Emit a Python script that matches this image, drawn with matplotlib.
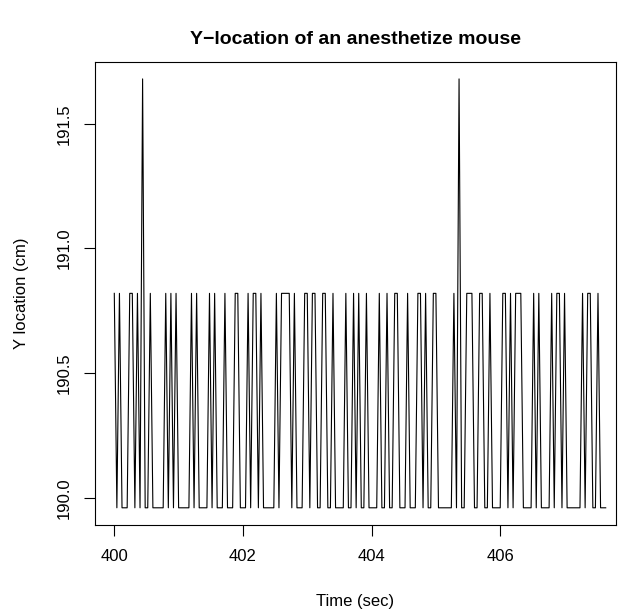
import matplotlib
matplotlib.use("Agg")
import matplotlib.pyplot as plt
import numpy as np

plt.rcParams['font.family'] = ['Liberation Sans', 'DejaVu Sans']

# tracked y position of the mouse, one value per video frame (25 fps)
t_start = 400.0
fps = 25
y_loc = [
    190.82, 189.96, 190.82, 189.96, 189.96, 189.96, 190.82, 190.82, 189.96, 190.82, 189.96, 191.68, 189.96, 189.96, 190.82, 189.96,
    189.96, 189.96, 189.96, 189.96, 190.82, 189.96, 190.82, 189.96, 190.82, 189.96, 189.96, 189.96, 189.96, 189.96, 190.82, 189.96,
    190.82, 189.96, 189.96, 189.96, 189.96, 190.82, 189.96, 190.82, 189.96, 189.96, 189.96, 190.82, 189.96, 189.96, 189.96, 190.82,
    190.82, 189.96, 189.96, 189.96, 190.82, 189.96, 190.82, 190.82, 189.96, 190.82, 189.96, 189.96, 189.96, 189.96, 189.96, 190.82,
    189.96, 190.82, 190.82, 190.82, 190.82, 189.96, 190.82, 189.96, 189.96, 189.96, 190.82, 190.82, 189.96, 190.82, 190.82, 189.96,
    189.96, 190.82, 190.82, 189.96, 189.96, 190.82, 189.96, 189.96, 189.96, 189.96, 190.82, 189.96, 189.96, 190.82, 189.96, 190.82,
    189.96, 189.96, 190.82, 189.96, 189.96, 189.96, 189.96, 190.82, 189.96, 189.96, 190.82, 189.96, 189.96, 190.82, 190.82, 189.96,
    189.96, 189.96, 190.82, 189.96, 189.96, 189.96, 190.82, 190.82, 189.96, 190.82, 189.96, 189.96, 190.82, 190.82, 189.96, 189.96,
    189.96, 189.96, 189.96, 189.96, 190.82, 189.96, 191.68, 189.96, 189.96, 190.82, 190.82, 190.82, 189.96, 189.96, 190.82, 190.82,
    189.96, 189.96, 190.82, 189.96, 189.96, 189.96, 189.96, 190.82, 190.82, 189.96, 190.82, 189.96, 190.82, 190.82, 190.82, 189.96,
    189.96, 189.96, 189.96, 190.82, 189.96, 190.82, 189.96, 189.96, 189.96, 189.96, 190.82, 189.96, 190.82, 190.82, 189.96, 190.82,
    189.96, 189.96, 189.96, 189.96, 189.96, 189.96, 190.82, 189.96, 190.82, 190.82, 189.96, 189.96, 190.82, 189.96, 189.96, 189.96,
]
x_ticks = [400, 402, 404, 406]
y_ticks = [190.0, 190.5, 191.0, 191.5]

time = t_start + np.arange(len(y_loc)) / fps

fig = plt.figure(figsize=(6.18, 6.16), dpi=100)
ax = fig.add_axes([95/618, 91/616, 521/618, 463.3/616])
ax.plot(time, y_loc, color='black', linewidth=0.8)

ax.set_xlim(399.70, 407.80)
ax.set_ylim(189.891, 191.749)
ax.set_xticks(x_ticks)
ax.set_xticklabels([str(v) for v in x_ticks])
ax.set_yticks(y_ticks)
ax.set_yticklabels(['%.1f' % v for v in y_ticks], rotation=90, va='center')
ax.tick_params(axis='both', direction='out', length=8, width=0.8, labelsize=12, pad=9)
for s in ax.spines.values():
    s.set_linewidth(0.8)

ax.set_xlabel('Time (sec)', fontsize=12, labelpad=22)
ax.set_ylabel('Y location (cm)', fontsize=12, labelpad=20)
fig.text((95 + 616) / 2 / 618, 1 - 40/616, 'Y\u2212location of an anesthetize mouse',
         ha='center', va='center', fontsize=14, fontweight='bold')

fig.savefig('out.png', dpi=100)
